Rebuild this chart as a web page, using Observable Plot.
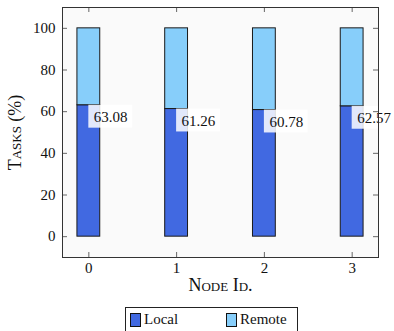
<!DOCTYPE html>
<html>
<head>
<meta charset="utf-8">
<script src="https://cdn.jsdelivr.net/npm/d3@7"></script>
<script src="https://cdn.jsdelivr.net/npm/@observablehq/plot@0.6"></script>
<style>
  html, body { margin: 0; padding: 0; background: #fff; }
  #wrap { position: relative; width: 394px; height: 331px; overflow: hidden; font-family: 'Liberation Serif', 'DejaVu Serif', serif; }
  #chart svg, #chart svg text { font-family: 'Liberation Serif', 'DejaVu Serif', serif !important; }
  #legend { position: absolute; left: 125px; top: 307px; width: 173px; height: 30px; border: 1px solid #222; background: #fff; box-sizing: border-box; font-size: 15px; color: #111; }
  .item { position: absolute; top: 3px; display: flex; align-items: center; }
  .sw { display: inline-block; width: 9px; height: 12px; border: 1px solid #111; margin-right: 3px; }
</style>
</head>
<body>
<div id="wrap"><div id="chart"></div><div id="legend"></div></div>
<script>
const nodes = [0, 1, 2, 3];
const local = [63.08, 61.26, 60.78, 62.57];
const remote = [36.92, 38.74, 39.22, 37.43];
const yTicks = [0, 20, 40, 60, 80, 100];
const xTicks = [0, 1, 2, 3];
const series = ["Local", "Remote"];
const colors = ["#4169E1", "#87CEFA"];

const rows = nodes.map((n, i) => ({node: n, local: local[i], remote: remote[i]}));
const hw = 0.13;
const W = 394, H = 300, mL = 62, mR = 16, mT = 7, mB = 43;
const fw = W - mL - mR, fh = H - mT - mB;
const font = "'Liberation Serif', 'DejaVu Serif', serif";

const chart = Plot.plot({
  width: W, height: H,
  marginLeft: mL, marginRight: mR, marginTop: mT, marginBottom: mB,
  style: {fontFamily: font, fontSize: "15px", color: "#111", background: "transparent"},
  x: {type: "linear", domain: [-0.3, 3.3], axis: null},
  y: {domain: [-10, 110], axis: null},
  marks: [
    Plot.frame({fill: "#fafafa"}),
    Plot.rect(rows, {x1: d => d.node - hw, x2: d => d.node + hw, y1: 0, y2: d => d.local, fill: colors[0], stroke: "#1a1a1a", strokeWidth: 1}),
    Plot.rect(rows, {x1: d => d.node - hw, x2: d => d.node + hw, y1: d => d.local, y2: d => d.local + d.remote, fill: colors[1], stroke: "#1a1a1a", strokeWidth: 1}),
    Plot.rect(rows, {x1: d => d.node, x2: d => d.node + 0.5, y1: d => d.local, y2: d => d.local - 11, fill: "white", fillOpacity: 0.85}),
    Plot.text(rows, {x: "node", y: "local", text: d => d.local.toFixed(2), dx: 5, dy: 12, textAnchor: "start", fill: "#111", fontSize: 15}),
    Plot.tickY(yTicks, {y: d => d, insetRight: fw - 5, stroke: "#666"}),
    Plot.tickY(yTicks, {y: d => d, insetLeft: fw - 5, stroke: "#666"}),
    Plot.tickX(xTicks, {x: d => d, insetTop: fh - 5, stroke: "#666"}),
    Plot.tickX(xTicks, {x: d => d, insetBottom: fh - 5, stroke: "#666"}),
    Plot.axisY(yTicks, {tickSize: 0, tickPadding: 7, label: null, fontSize: 15}),
    Plot.axisX(xTicks, {tickSize: 0, tickPadding: 5, label: null, fontSize: 15}),
    Plot.frame({stroke: "#333", strokeWidth: 1}),
    Plot.text(["Tasks (%)"], {frameAnchor: "left", dx: -47, rotate: -90, textAnchor: "middle", fontVariant: "small-caps", fontSize: 18, fill: "#111"}),
    Plot.text(["Node Id."], {frameAnchor: "bottom", dy: 33, fontVariant: "small-caps", fontSize: 18, fill: "#111"})
  ]
});
document.getElementById("chart").appendChild(chart);

const leg = document.getElementById("legend");
const pos = [4, 100];
series.forEach((s, i) => {
  const it = document.createElement("div");
  it.className = "item";
  it.style.left = pos[i] + "px";
  const sw = document.createElement("span");
  sw.className = "sw";
  sw.style.background = colors[i];
  it.appendChild(sw);
  it.appendChild(document.createTextNode(s));
  leg.appendChild(it);
});
</script>
</body>
</html>
